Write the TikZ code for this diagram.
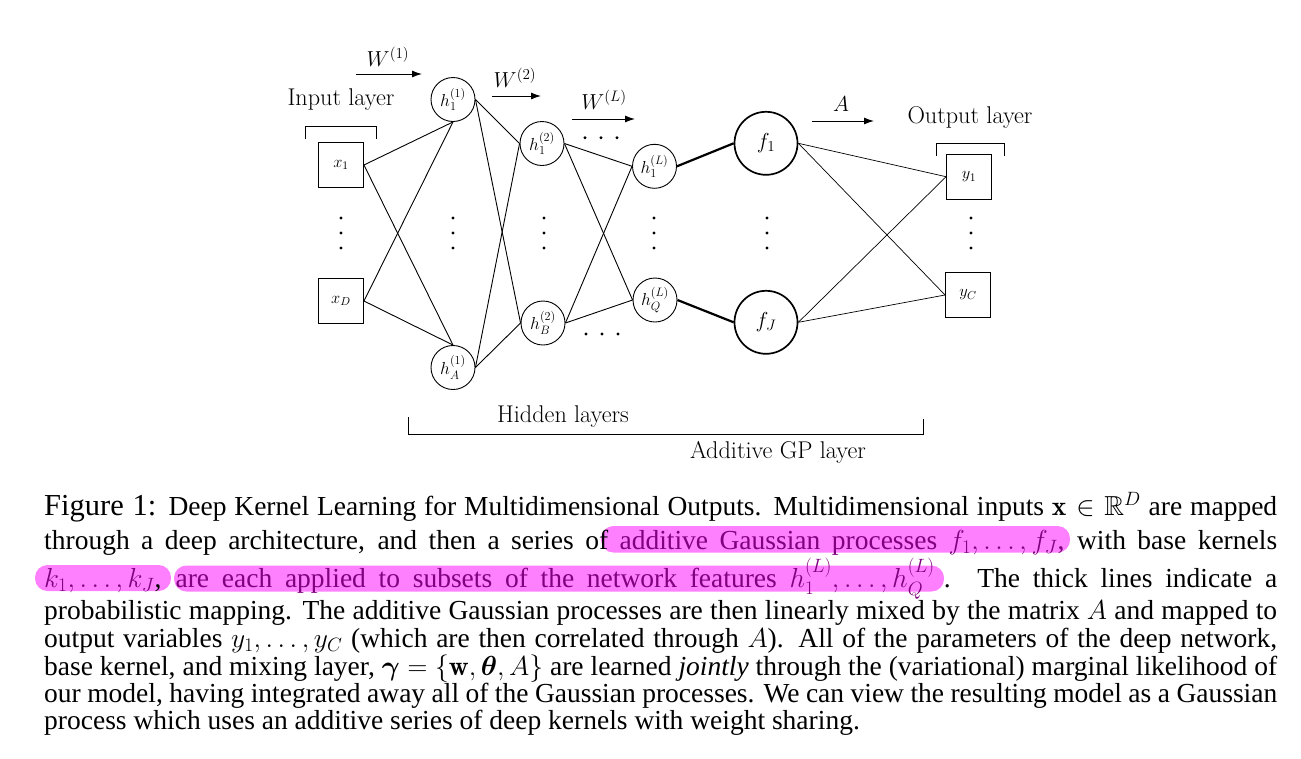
\RequirePackage{fix-cm}
\documentclass[tikz,border=0pt]{standalone}
\usepackage{amsmath,amssymb}
\usepackage{fontspec}
\newfontfamily\capfont{Liberation Serif}
\usetikzlibrary{arrows.meta}
\definecolor{hlbg}{RGB}{255,128,255}
\definecolor{hlt}{RGB}{128,0,128}
\newcommand\dfnt{\fontsize{21.7}{26}\selectfont}
\newcommand\tfnt{\fontsize{24.2}{28}\selectfont}
\newcommand\hfnt{\fontsize{17.4}{20}\selectfont}
\newcommand\xfnt{\fontsize{16.5}{19}\selectfont}
\newcommand\capsz{\capfont\fontsize{27.5}{27}\selectfont}
\newcommand\figsz{\capfont\fontsize{30.5}{30}\selectfont}
\begin{document}
\begin{tikzpicture}[x=1pt,y=-1pt,
  every node/.style={inner sep=0pt},
  hnode/.style={circle,draw,line width=0.9pt,minimum size=44pt,font=\hfnt},
  fnode/.style={circle,draw,line width=1.7pt,minimum size=63pt,font=\dfnt},
  xnode/.style={rectangle,draw,line width=0.9pt,minimum size=45pt,font=\xfnt},
  lbl/.style={font=\dfnt},
  tlbl/.style={font=\tfnt},
  edge/.style={line width=0.9pt},
  thickedge/.style={line width=2.2pt},
  thinedge/.style={line width=0.7pt},
  warrow/.style={line width=1pt,-{Latex[length=10pt,width=7pt]}},
  brk/.style={line width=1pt},
  capline/.style={anchor=base west,font=\capsz},
  hl/.style={fill=hlbg,rounded corners=12.5pt}]
\useasboundingbox[fill=white] (0,0) rectangle (1301,758);

% nodes
\node[xnode] (x1) at (341,165) {$x_1$};
\node[xnode] (xD) at (341,301) {$x_D$};
\node[hnode] (h11) at (453,99.5) {$h_1^{(1)}$};
\node[hnode] (hA1) at (453,367.5) {$h_A^{(1)}$};
\node[hnode] (h12) at (542,143.5) {$h_1^{(2)}$};
\node[hnode] (hB2) at (543,323) {$h_B^{(2)}$};
\node[hnode] (h1L) at (654.5,166.3) {$h_1^{(L)}$};
\node[hnode] (hQL) at (655,300) {$h_Q^{(L)}$};
\node[fnode] (f1) at (766,143.3) {$f_1$};
\node[fnode] (fJ) at (766,322.3) {$f_J$};
\node[xnode] (y1) at (969,176.7) {$y_1$};
\node[xnode] (yC) at (968,295) {$y_C$};

% edges
\foreach \a in {x1,xD}{\draw[edge] (\a.east) -- (h11.south);
  \draw[edge] (\a.east) -- (hA1.north);}
\foreach \a in {h11,hA1}{\foreach \b in {h12,hB2}{\draw[edge] (\a.east) -- (\b.west);}}
\foreach \a in {h12,hB2}{\foreach \b in {h1L,hQL}{\draw[edge] (\a.east) -- (\b.west);}}
\draw[thickedge] (h1L.east) -- (f1.west);
\draw[thickedge] (hQL.east) -- (fJ.west);
\foreach \a in {f1,fJ}{\foreach \b in {y1,yC}{\draw[thinedge] (\a.east) -- (\b.west);}}

% vertical dots
\foreach \xx in {341,453,544,654,767,971}{\foreach \yy in {218,233,248}{\fill (\xx,\yy) circle (1.6);}}
% horizontal dots
\foreach \xx in {585,601,617}{\fill (\xx,137.7) circle (1.6); \fill (\xx+1,334) circle (1.6);}

% weight arrows
\coordinate (w1s) at (356,74); \coordinate (w1e) at (422,74);
\coordinate (w2s) at (492,96); \coordinate (w2e) at (541,96);
\coordinate (wLs) at (572,119); \coordinate (wLe) at (635,119);
\coordinate (as) at (812,121); \coordinate (ae) at (874,121);
\draw[warrow] (w1s) -- (w1e);
\draw[warrow] (w2s) -- (w2e);
\draw[warrow] (wLs) -- (wLe);
\draw[warrow] (as) -- (ae);
\node[lbl] (w1l) at (388,57) {$W^{(1)}$};
\node[lbl] (w2l) at (515,78) {$W^{(2)}$};
\node[lbl] (wLl) at (604,100) {$W^{(L)}$};
\node[lbl] (al) at (841,104) {$A$};

% brackets and layer labels
\node[tlbl] (inl) at (341,100) {Input layer};
\coordinate (ib1) at (305,139); \coordinate (ib2) at (376,139);
\draw[brk] (ib1) -- ++(0,-13) -| (ib2);
\node[tlbl] (outl) at (970,117) {Output layer};
\coordinate (ob1) at (936,156); \coordinate (ob2) at (1004,156);
\draw[brk] (ob1) -- ++(0,-13) -| (ob2);
\coordinate (hb1) at (408,417); \coordinate (hb2) at (923,419);
\draw[brk] (hb1) |- (hb2 |- 0,434) -- (hb2);
\node[tlbl] (hidl) at (563,417) {Hidden layers};
\node[tlbl] (gpl) at (778,452) {Additive GP layer};

% highlights (behind the text)
\fill[hl] (601,526) rectangle (1070,552.5);
\fill[hl] (35,565) rectangle (171,591);
\fill[hl] (174,565.5) rectangle (944,591.5);

% caption
\node[capline] (c1) at (44,515) {\makebox[1233pt][s]{\figsz Figure 1: \capsz Deep Kernel Learning for Multidimensional Outputs. Multidimensional inputs $\mathbf{x}\in\mathbb{R}^D$ are mapped}};
\node[capline] (c2) at (44,549) {\makebox[1233pt][s]{through a deep architecture, and then a series of \textcolor{hlt}{additive Gaussian processes $f_1,\dots,f_J$,} with base kernels}};
\node[capline] (c3) at (44,587) {\makebox[1233pt][s]{\textcolor{hlt}{$k_1,\dots,k_J$}, \textcolor{hlt}{are each applied to subsets of the network features $h_1^{(L)},\dots,h_Q^{(L)}$}\hspace{9pt}. The thick lines indicate a}};
\node[capline] (c4) at (44,619) {\makebox[1233pt][s]{probabilistic mapping. The additive Gaussian processes are then linearly mixed by the matrix $A$ and mapped to}};
\node[capline] (c5) at (44,647) {\makebox[1233pt][s]{output variables $y_1,\dots,y_C$ (which are then correlated through $A$). All of the parameters of the deep network,}};
\node[capline] (c6) at (44,675) {\makebox[1233pt][s]{base kernel, and mixing layer, $\boldsymbol{\gamma}=\{\mathbf{w},\boldsymbol{\theta},A\}$ are learned \emph{jointly} through the (variational) marginal likelihood of}};
\node[capline] (c7) at (44,702) {\makebox[1233pt][s]{our model, having integrated away all of the Gaussian processes. We can view the resulting model as a Gaussian}};
\node[capline] (c8) at (44,729) {process which uses an additive series of deep kernels with weight sharing.};
\end{tikzpicture}
\end{document}
